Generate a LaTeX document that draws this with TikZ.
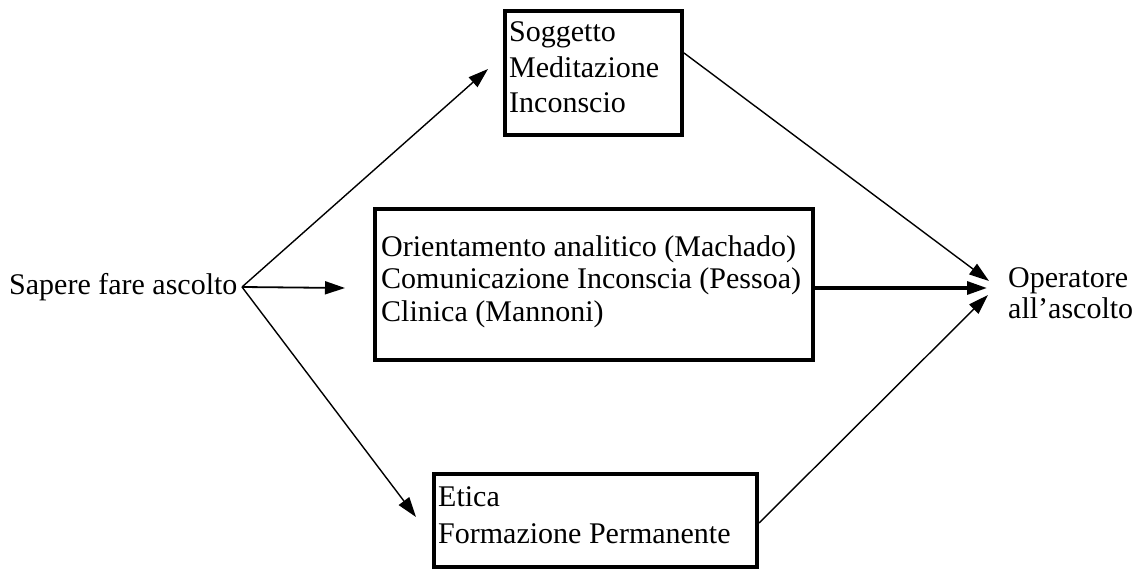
\documentclass[tikz,border=0pt]{standalone}
\usepackage{fontspec}
\setmainfont{Liberation Serif}
\usetikzlibrary{arrows.meta,calc}
\begin{document}
\begin{tikzpicture}[x=1pt,y=-1pt,
  box/.style={draw,line width=4pt,inner sep=0pt,rectangle},
  txt/.style={inner sep=0pt,anchor=base west,align=left,font=\fontsize{30}{31}\selectfont},
  conn/.style={line width=1.4pt,-{Triangle[length=20pt,width=13pt]}},
  thick conn/.style={line width=3.2pt,-{Triangle[length=20pt,width=13pt]}}]
\useasboundingbox (0,0) rectangle (1134,569);
% boxes
\node[box,minimum width=177pt,minimum height=124pt] (topbox) at (593.5,73) {};
\node[box,minimum width=438pt,minimum height=151pt] (midbox) at (594,284.5) {};
\node[box,minimum width=323pt,minimum height=93pt] (botbox) at (595.5,520.5) {};
% texts (anchored at the baseline of the last line)
\node[txt,font=\fontsize{30}{35.5}\selectfont] (toptext) at (509,113) {Soggetto\\Meditazione\\Inconscio};
\node[txt,font=\fontsize{30}{32.5}\selectfont] (midtext) at (381,321) {Orientamento analitico (Machado)\\Comunicazione Inconscia (Pessoa)\\Clinica (Mannoni)};
\node[txt,font=\fontsize{30}{37}\selectfont] (bottext) at (438,543) {Etica\\Formazione Permanente};
\node[txt] (sapere) at (9,294) {Sapere fare ascolto};
\node[txt] (operatore) at (1008,318) {Operatore\\all’ascolto};
% connector end points
\coordinate (src) at (242,287);
\coordinate (tipTop) at (488,69);
\coordinate (tipMid) at (345,288);
\coordinate (tipBot) at (416,517);
\coordinate (inTop) at (989,281);
\coordinate (inMid) at (987,288);
\coordinate (inBot) at (988,295);
% connectors
\draw[conn] (src) -- (tipTop);
\draw[conn,line width=1.8pt] (src) -- (tipMid);
\draw[conn] (src) -- (tipBot);
\draw[conn] ([yshift=20pt]topbox.east) -- (inTop);
\draw[thick conn] ([yshift=-3.5pt]midbox.east) -- (inMid);
\draw[conn] ([yshift=-2.5pt]botbox.east) -- (inBot);
\end{tikzpicture}
\end{document}
